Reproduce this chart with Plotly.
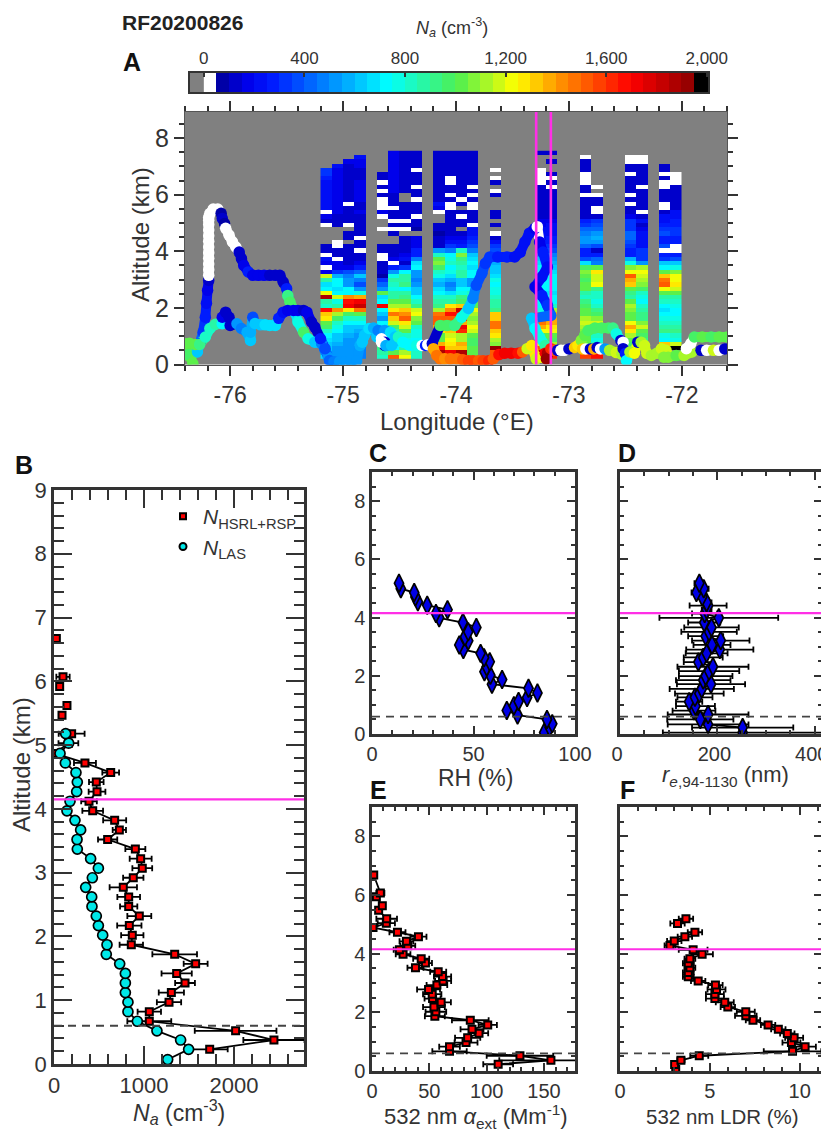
import numpy as np
import plotly.graph_objects as go

N = None
W = 25  # Na below 50: drawn white

# ---------- Panel A curtain: Na by column, listed from the top bin down ----------
CURTAIN_LON = [-75.15, -75.05, -74.95, -74.85,
               -74.65, -74.55, -74.45, -74.35,
               -74.15, -74.05, -73.95, -73.85,
               -73.65,
               -73.25, -73.15,
               -72.85, -72.75,
               -72.45, -72.35,
               -72.15, -72.05]
C01 = [N,N,N,N,320,310,290,240,230,230,220,220,210,200,W,150,140,W,N,N,N,N,130,120,W,200,180,W,170,1180,850,680,740,1220,1870,860,820,1680,1320,1260,1000,950,800,700,650,600,600,600,650]
C02 = [N,N,N,240,190,170,180,160,170,180,170,160,150,150,180,130,120,130,N,N,N,W,W,120,110,W,180,170,300,560,700,720,650,700,1160,760,850,1420,1100,950,800,750,700,620,600,560,540,500,520]
C03 = [N,N,170,130,120,130,110,120,130,140,130,120,W,130,120,110,120,W,N,140,120,N,110,100,110,120,130,180,360,460,500,520,700,710,1400,1660,1720,1260,960,800,700,640,600,560,520,520,500,500,520]
C04 = [N,200,190,160,140,130,120,150,160,170,160,150,130,140,150,130,120,110,120,130,W,100,110,W,120,130,170,250,400,600,450,360,500,750,1360,1700,1820,1460,1000,800,700,620,560,540,520,500,480,460,480]
C05 = [N,N,N,N,N,120,110,W,120,W,130,W,W,W,170,W,N,N,W,N,N,N,110,110,W,W,130,120,110,90,300,400,500,1010,650,700,1700,700,600,500,700,720,760,900,960,950,900,850,800]
C06 = [160,170,180,170,160,170,180,170,170,160,130,120,130,W,130,120,W,120,W,110,N,N,110,120,130,180,W,250,500,750,850,800,750,850,850,1000,1100,1260,1450,1300,1160,950,850,750,700,680,720,1000,1500]
C07 = [130,120,120,130,120,110,120,130,120,130,N,N,120,110,120,110,W,120,W,N,110,100,110,130,180,220,140,300,700,850,860,900,700,850,900,1000,1100,1300,1400,1500,1250,1150,1000,800,750,750,850,1100,1200]
C08 = [110,100,110,100,W,110,100,110,W,120,110,W,100,110,100,W,110,100,90,N,170,180,190,260,270,450,650,700,500,500,450,500,600,600,700,800,900,1160,1200,1050,1000,800,760,760,720,700,700,800,800]
C09 = [140,130,120,130,120,110,130,120,140,130,120,130,200,170,W,N,N,100,100,90,110,120,140,500,800,1000,1050,950,800,750,600,550,650,700,800,850,900,1100,1450,1500,1500,1350,1250,1000,1000,1350,1650,1850,1500]
C10 = [110,100,110,100,110,120,W,W,110,120,W,100,W,W,110,100,110,120,110,140,180,220,300,450,700,750,800,700,750,650,550,450,500,650,800,850,1250,1400,1650,1500,1300,1200,1300,1150,1200,1250,1300,1700,1500]
C11 = [100,110,100,110,100,110,120,110,100,110,120,W,110,N,100,W,110,100,N,130,160,200,280,800,1050,900,850,800,850,850,600,600,700,750,900,950,1300,1800,1650,1650,1350,1700,1600,1100,1100,1350,1300,1850,1750]
C12 = [120,110,120,100,110,120,130,120,W,120,W,110,W,W,110,130,120,W,200,240,280,320,350,450,600,650,700,650,700,700,500,500,700,800,800,1000,1000,1200,1100,1050,1100,1200,1150,1000,950,950,1000,1000,950]
C13 = [N,N,N,N,W,N,W,110,N,W,100,N,N,N,100,110,N,100,N,W,130,200,300,350,450,500,550,600,600,650,750,700,750,750,800,850,850,900,1300,1300,1450,1450,1300,1250,1100,1050,1900,1500,1000]
C14 = [100,N,N,N,W,W,W,W,100,110,120,110,130,120,110,130,150,180,200,220,230,250,280,350,500,600,650,700,720,700,720,700,700,720,700,700,720,760,1300,1400,1450,1350,1200,1000,1000,1200,1500,1800,1700]
C15 = [100,N,110,N,N,100,W,110,W,120,110,120,130,140,120,130,170,200,230,240,250,270,300,380,450,520,560,600,650,700,700,720,700,680,700,720,800,1100,1350,1350,1350,1250,1200,1000,950,1100,1400,1700,1600]
C16 = [N,W,110,100,110,W,W,W,110,120,W,100,110,120,110,130,250,300,400,450,500,500,400,280,280,350,650,950,1050,1000,950,1000,1000,850,800,900,950,1000,1000,1100,1150,1100,1050,950,1000,1000,1000,1550,1550]
C17 = [N,N,N,N,N,N,N,N,W,N,W,110,120,W,W,130,300,350,400,500,550,500,350,130,250,400,450,1000,1250,1150,1150,1200,900,800,800,750,800,900,950,1050,1150,1250,1050,800,750,800,900,1650,1650]
C18 = [N,W,W,110,100,W,120,110,130,120,W,110,W,120,130,150,300,320,320,400,400,350,300,280,280,550,750,1050,1200,1500,1350,1300,1000,900,850,1000,1100,1050,1000,1000,1200,1350,1250,1100,1000,950,900,N,N]
C19 = [N,W,W,110,100,120,110,130,W,110,120,110,130,120,W,120,200,130,180,200,220,200,200,300,300,300,500,1100,1200,1150,1100,1050,950,800,750,700,800,850,900,900,1050,1150,1000,950,900,900,950,N,N]
C20 = [N,N,N,100,110,W,120,W,W,130,110,120,W,W,130,200,210,250,300,350,250,250,350,W,250,300,600,700,1000,1300,1450,1500,1200,1000,850,800,700,650,700,750,800,850,900,750,700,1300,2000,N,N]
C21 = [N,N,N,N,N,W,W,W,120,110,130,120,130,140,200,220,250,280,320,300,260,280,W,W,280,350,600,750,1050,1200,1200,1250,1150,1000,850,800,750,700,720,750,800,850,900,800,750,1150,1950,N,N]
CURTAIN_COLS = [C01,C02,C03,C04,C05,C06,C07,C08,C09,C10,C11,C12,C13,C14,C15,C16,C17,C18,C19,C20,C21]
CURTAIN_TOP_KM = 7.55
CURTAIN_BIN_KM = 0.15
CURTAIN_LON_GRID = [round(-75.15 + 0.1 * i, 2) for i in range(32)]

# ---------- Panel A flight track: lon, alt, Na ----------
TRACK_LON = [-76.33,-76.35,-76.40,-76.29,-76.27,-76.24,-76.22,-76.21,-76.20,-76.19,
 -76.19,-76.19,-76.19,-76.19,-76.19,-76.19,-76.19,-76.19,-76.19,-76.19,-76.19,-76.19,
 -76.18,-76.15,-76.11,-76.08,-76.07,-76.05,-76.04,-76.01,-75.98,-75.95,-75.92,-75.90,-75.88,-75.84,-75.80,
 -75.75,-75.70,-75.65,-75.60,-75.56,-75.53,-75.50,-75.49,-75.47,-75.42,-75.40,-75.35,-75.31,-75.25,-75.19,-75.16,-75.13,-75.10,
 -76.40,-76.36,-76.31,-76.27,-76.22,-76.18,-76.13,-76.07,-76.07,-76.04,-76.01,-76.00,-75.94,-75.90,-75.85,-75.82,-75.82,-75.80,-75.78,-75.73,-75.69,-75.65,-75.60,-75.57,-75.53,-75.49,-75.44,-75.40,-75.35,-75.32,-75.28,-75.25,-75.20,-75.16,-75.12,
 -75.08,-75.03,-74.98,-74.93,-74.88,-74.85,-74.83,-74.81,-74.77,-74.73,-74.70,-74.69,-74.63,-74.58,-74.54,
 -74.66,-74.63,-74.63,-74.66,-74.62,-74.57,-74.51,-74.47,-74.41,-74.35,-74.30,-74.27,-74.25,-74.21,
 -74.14,-74.08,-74.01,-73.95,-73.89,-73.85,-73.82,-73.77,-73.74,-73.70,-73.63,-73.55,-73.48,-73.43,-73.39,-73.35,-73.30,-73.28,
 -73.26,-73.23,-73.19,-73.24,-73.30,-73.24,-73.19,-73.16,-73.33,-73.30,-73.26,-73.21,
 -74.20,-74.17,-74.14,-74.10,-74.05,-73.99,-73.94,-73.89,-73.85,-73.80,-73.76,-73.71,-73.67,-73.62,-73.57,-73.51,-73.45,-73.41,-73.37,-73.33,-73.29,-73.24,-73.21,-73.19,-73.20,-73.16,-73.13,
 -73.12,-73.10,-73.07,-73.04,-73.00,-72.95,-72.92,-72.89,-72.86,-72.88,-72.85,-72.81,-72.78,-72.75,-72.72,-72.68,-72.64,-72.58,-72.53,
 -72.83,-72.77,-72.71,-72.65,-72.61,-72.58,-72.54,-72.52,-72.52,-72.50,-72.49,
 -72.46,-72.42,-72.39,-72.36,-72.33,-72.31,-72.27,-72.22,-72.18,-72.14,-72.12,-72.16,-72.05,-71.98,-71.91,
 -71.96,-71.92,-71.89,-71.82,-71.74,-71.67,-71.60,-71.83,-71.78,-71.72,-71.67,-71.62]
TRACK_ALT = [.02,.26,.35,.44,.74,1.14,1.67,2.16,2.62,2.97,
 3.15,3.35,3.55,3.75,3.95,4.15,4.35,4.55,4.75,4.95,5.10,5.20,
 5.33,5.49,5.49,5.34,5.16,4.98,4.81,4.57,4.33,4.15,3.97,3.74,3.50,3.27,3.15,
 3.15,3.15,3.15,3.15,3.15,2.91,2.68,2.44,2.20,1.80,1.50,1.14,.91,.79,.74,.50,.26,.08,
 .73,.75,.71,.71,.97,1.27,1.42,1.44,1.67,1.85,1.67,1.38,1.44,1.27,1.14,.85,1.14,1.67,1.45,1.40,1.40,1.38,1.38,1.63,1.85,1.91,1.91,1.91,1.91,1.85,1.50,1.32,.91,.56,.14,
 .10,.10,.10,.12,.12,.67,.79,1.03,1.27,1.29,.97,1.20,1.20,1.14,.97,
 .91,.79,.67,.79,.67,.67,.97,.79,.67,.67,.67,.67,.70,.74,
 1.38,1.38,1.38,1.67,1.98,2.33,2.80,3.22,3.57,3.80,3.80,3.80,3.80,3.97,4.33,4.64,4.81,4.87,
 4.33,3.97,3.44,3.09,2.74,2.44,2.09,1.73,1.63,1.27,.97,.67,
 .56,.32,.20,.20,.20,.20,.17,.13,.13,.13,.13,.13,.20,.35,.40,.40,.40,.44,.56,.67,.20,.26,.40,.40,.20,.56,.50,
 .50,.50,.50,.50,.55,.60,.67,.85,1.03,.55,.55,.55,.55,.60,.55,.55,.50,.42,.36,
 1.20,1.29,1.29,1.29,1.29,1.09,.85,.79,.56,.39,.14,
 .44,.40,.79,.79,.67,.39,.32,.40,.56,.50,.26,.26,.32,.32,.44,
 .56,.74,.97,.97,.97,.97,.97,.50,.50,.50,.50,.55]
TRACK_NA = [1000,1000,950,600,400,300,250,200,150,100,
 W,W,W,W,W,W,W,W,W,W,W,W,
 W,W,W,60,120,60,W,W,W,W,100,120,180,250,180,
 170,150,140,130,130,120,250,900,950,650,750,950,750,600,450,450,500,500,
 1000,1000,1000,900,800,800,850,700,150,120,130,120,500,450,550,600,550,350,600,600,650,650,650,250,200,170,160,150,130,170,120,100,250,350,400,
 450,500,520,500,500,550,600,600,650,550,600,450,500,650,600,
 W,100,100,W,550,600,800,700,700,750,W,250,W,120,
 950,950,900,750,600,450,380,350,320,300,280,250,230,230,230,200,150,W,
 150,250,200,230,170,280,300,400,600,700,750,850,
 1350,1450,1450,1400,1450,1450,1500,1550,1550,1500,1550,1600,1500,1650,1700,1700,1650,1500,1150,1250,1150,1200,1700,1850,1900,1600,1500,
 1500,120,W,W,120,1300,1250,1050,1000,1300,W,120,1350,120,W,500,1100,1150,1100,
 950,950,950,950,900,750,120,W,120,280,700,
 1100,1200,120,1100,1150,1150,1100,1100,1150,1150,1050,1050,1000,1100,1100,
 W,W,950,1000,950,1000,1000,120,W,1150,W,120]

# ---------- Flight-leg longitudes, reference altitudes ----------
LEG_LONS = [-73.29, -73.16]
LON_TICKS = [-76, -75, -74, -73, -72]
LON_LABELS = ["-76", "-75", "-74", "-73", "-72"]
PBL_KM = 0.6
LEVEL_KM = 4.15

# ---------- Panel B ----------
HSRL_ALT = [.23,.376,.52,.67,.82,.97,1.12,1.27,1.42,1.57,1.72,1.87,2.02,2.17,2.32,2.47,2.62,2.77,2.92,3.07,3.22,3.37,3.52,3.67,3.82,3.97,4.12,4.27,4.42,4.57,4.72,4.87,5.03,5.18,N,5.47,N,5.62,N,5.92,N,6.07,N,6.67]
HSRL_NA = [1730,2444,2018,1059,1059,1278,1304,1456,1363,1574,1341,859,870,837,948,830,830,770,881,981,963,904,596,726,674,430,389,478,470,630,344,7,160,196,N,89,N,144,N,63,N,100,N,26]
HSRL_ERR = [200,340,454,244,130,135,140,110,168,133,248,130,124,135,133,96,126,152,113,110,122,111,107,74,128,115,87,93,81,93,122,20,110,144,N,15,N,15,N,15,N,74,N,10]
LAS_ALT = [.07,.23,.376,.52,.67,.82,.97,1.12,1.27,1.42,1.57,1.72,1.87,2.02,2.17,2.32,2.47,2.62,2.77,2.92,3.07,3.22,3.37,3.52,3.67,3.82,3.97,4.12,4.27,4.42,4.57,4.72,4.87,5.03,5.18]
LAS_NA = [1263,1496,1407,1144,926,822,822,793,793,793,730,581,589,541,493,470,422,419,352,426,493,407,259,256,296,233,144,178,252,259,244,126,67,163,130]

# ---------- Panel C ----------
RH_ALT = [.05,.23,.35,.50,.65,.81,.97,1.12,1.25,1.41,1.57,1.71,1.87,2.02,2.14,2.31,2.48,2.62,2.77,2.90,3.06,3.20,3.34,3.51,3.66,3.83,3.99,4.14,4.27,4.42,4.54,4.71,4.86,4.99,5.18]
RH_VAL = [84.8,87.5,88.8,86.2,71.7,66.4,69.9,72.2,76.4,81.5,77.1,59.1,64.1,58.3,55.4,56.5,58,55.2,53.5,45,43,47.4,45.8,47.4,51.4,44.8,33.1,31.5,37.2,27.2,22.6,21.4,20.8,14.2,13.3]

# ---------- Panel D ----------
RE_ALT = [.05,.22,.33,.50,.67,.80,.96,1.11,1.26,1.39,1.55,1.71,1.85,1.99,2.16,2.31,2.47,2.63,2.77,2.90,3.06,3.21,3.36,3.51,3.66,3.83,3.99,4.14,4.27,4.41,4.52,4.71,4.86,4.99,5.18]
RE_VAL = [252,252,181,165,181,152,155,142,154,163,168,187,171,176,183,191,161,171,178,205,189,207,176,183,188,173,203,174,178,181,178,169,157,172,163]
RE_ERR = [164,104,83,68,83,44,40,27,36,50,66,70,56,55,62,73,30,40,43,69,38,59,36,57,56,33,122,26,10,38,10,10,10,10,10]

# ---------- Panel E ----------
EXT_ALT = [.23,.365,.52,.67,.83,.97,1.13,1.29,1.42,1.57,1.73,1.87,2.02,2.18,2.34,2.47,2.62,2.78,2.93,3.07,3.22,3.38,3.52,3.68,3.83,3.98,4.13,4.27,4.42,4.58,4.73,4.89,5.04,5.19,5.48,5.63,5.94,6.07,6.68]
EXT_VAL = [110,156,129,67.6,67.6,82,83.4,93.3,87.2,100.9,85.7,54.8,55.7,54,60.3,52.8,52.5,49.3,56.6,62,61.5,57.7,37.9,46.6,42.9,27.1,23.9,31.2,30,40.5,22.2,.9,12.5,12.8,5.8,9,3.8,7.3,1.5]
EXT_ERR = [13,45,29,15,9,10,11,8,10,8,16,8.7,9,9.5,8.5,7,8,10,9,7,7.5,7,7,5.7,7,6.4,5,6.5,6,7,7,1.5,7.5,9,2,2,2,3.5,1]

# ---------- Panel F ----------
LDR_ALT = [.05,.22,.365,.52,.67,.83,.97,1.13,1.28,1.42,1.57,1.73,1.88,2.02,2.18,2.34,2.47,2.62,2.78,2.93,3.07,3.21,3.36,3.52,3.67,3.83,3.98,4.13,4.28,4.43,4.58,4.73,N,5.03,5.19]
LDR_VAL = [3.1,3.04,3.39,4.41,9.6,10.3,9.54,9.69,9.31,8.81,8.24,7.4,7.0,7.0,6.0,5.83,5.28,5.28,5.37,5.31,4.35,3.8,3.8,3.89,3.8,3.89,4.57,4.07,2.78,3.02,3.61,4.17,N,3.2,3.67]
LDR_ERR = [.1,.1,.2,.5,1.6,.6,.5,.5,.4,.4,.4,.4,.6,.5,.4,.5,.5,.5,.5,.4,.4,.3,.3,.3,.3,.3,.6,.8,.3,.4,.4,.4,N,.4,.4]

# ---------- Colour steps of the Na scale ----------
NA_STEP = 50
NA_MAX = 2050
COLOR_VALUES = [50, 170, 280, 735, 1010, 1240, 1420, 1700, 1950]
COLOR_RGB = [(0,0,150),(0,0,235),(0,30,255),(0,255,255),(80,240,80),(255,255,0),(255,144,0),(255,0,0),(140,0,0)]

BODY_PAD = 8  # the page's own margin around the figure
W_PX, H_PX = 829 - BODY_PAD, 1131 - BODY_PAD
INK = "#333333"
FONT = "Liberation Sans"
MAGENTA = "#ff2fe6"
DASH = "#444444"

# ---------- discrete colour scale ----------
n_steps = NA_MAX // NA_STEP
scale = []
for i in range(n_steps):
    lo = i * NA_STEP
    c = lo + NA_STEP / 2
    if i == 0:
        col = "#ffffff"
    elif lo >= 1950:
        col = "#000000"
    else:
        rgb = [int(np.interp(c, COLOR_VALUES, [k[j] for k in COLOR_RGB])) for j in range(3)]
        col = f"rgb({rgb[0]},{rgb[1]},{rgb[2]})"
    scale += [[i / n_steps, col], [(i + 1) / n_steps, col]]

def step_color(v):
    return scale[2 * min(int(v // NA_STEP), n_steps - 1)][1]

# ---------- helpers for layout in pixels of the 829x1131 window ----------
def xd(a, b): return [(a - BODY_PAD) / W_PX, (b - BODY_PAD) / W_PX]
def yd(top, bottom): return [1 - (bottom - BODY_PAD) / H_PX, 1 - (top - BODY_PAD) / H_PX]

fig = go.Figure()

# colour bar
bar_x = [NA_STEP * (i + 0.5) for i in range(n_steps)]
fig.add_trace(go.Heatmap(x=bar_x, y=[0], z=[bar_x], zmin=0, zmax=NA_MAX, colorscale=scale,
                         showscale=False, xaxis="x", yaxis="y", hoverinfo="skip"))

# curtain
z = []
n_rows = 49
for r in range(n_rows):
    row = []
    for lon in CURTAIN_LON_GRID:
        if lon in CURTAIN_LON:
            row.append(CURTAIN_COLS[CURTAIN_LON.index(lon)][r])
        else:
            row.append(None)
    z.append(row)
alts = [CURTAIN_TOP_KM - CURTAIN_BIN_KM * (r + 0.5) for r in range(n_rows)]
fig.add_trace(go.Heatmap(x=CURTAIN_LON_GRID, y=alts, z=z, zmin=0, zmax=NA_MAX, colorscale=scale,
                         showscale=False, xaxis="x2", yaxis="y2", hoverongaps=False))

# track: thick segments between neighbouring samples of one leg, then the samples
TRACK_GAP = 0.25  # normalised jump above which two samples are not joined
for i in range(len(TRACK_LON) - 1):
    jump = np.hypot(TRACK_LON[i + 1] - TRACK_LON[i], (TRACK_ALT[i + 1] - TRACK_ALT[i]) / 4)
    if jump < TRACK_GAP:
        fig.add_trace(go.Scatter(x=TRACK_LON[i:i + 2], y=TRACK_ALT[i:i + 2], mode="lines", xaxis="x2", yaxis="y2",
                                 line=dict(color=step_color(TRACK_NA[i]), width=10), showlegend=False, hoverinfo="skip"))
fig.add_trace(go.Scatter(x=TRACK_LON, y=TRACK_ALT, mode="markers", xaxis="x2", yaxis="y2",
                         marker=dict(color=TRACK_NA, cmin=0, cmax=NA_MAX, colorscale=scale, size=11.5, line=dict(width=0)),
                         showlegend=False))
for lon in LEG_LONS:
    fig.add_trace(go.Scatter(x=[lon, lon], y=[0, 8.92], mode="lines", xaxis="x2", yaxis="y2",
                             line=dict(color=MAGENTA, width=2.6), showlegend=False))

def profile(x, y, err, ax, kind):
    sym = dict(sq=dict(symbol="square", size=7, color="#ff0000", line=dict(color="black", width=2)),
               ci=dict(symbol="circle", size=10, color="#00e8e8", line=dict(color="black", width=1.7)),
               di=dict(symbol="diamond-tall", size=13, color="#0000e6", line=dict(color="black", width=1.7)))[kind]
    tr = dict(x=x, y=y, mode="lines+markers", xaxis="x" + ax, yaxis="y" + ax,
              line=dict(color="black", width=1.8), marker=sym, showlegend=False)
    if err is not None:
        tr["error_x"] = dict(type="data", array=err, symmetric=True, color="black", thickness=1.8, width=3)
    fig.add_trace(go.Scatter(**tr))

profile(HSRL_NA, HSRL_ALT, HSRL_ERR, "3", "sq")
profile(LAS_NA, LAS_ALT, None, "3", "ci")
profile(RH_VAL, RH_ALT, None, "4", "di")
profile(RE_VAL, RE_ALT, RE_ERR, "5", "di")
profile(EXT_VAL, EXT_ALT, EXT_ERR, "6", "sq")
profile(LDR_VAL, LDR_ALT, LDR_ERR, "7", "sq")

# legend markers for panel B
fig.add_trace(go.Scatter(x=[None], y=[None], mode="markers", xaxis="x3", yaxis="y3", name="<i>N</i><sub>HSRL+RSP</sub>",
                         marker=dict(symbol="square", size=6, color="#ff0000", line=dict(color="black", width=2))))
fig.add_trace(go.Scatter(x=[None], y=[None], mode="markers", xaxis="x3", yaxis="y3", name="<i>N</i><sub>LAS</sub>",
                         marker=dict(symbol="circle", size=7, color="#00e8e8", line=dict(color="black", width=2))))

# ---------- axes ----------
def prof_axis(domain, rng, major, minor, anchor, big=False):
    return dict(domain=domain, range=rng, dtick=major, tick0=0, ticks="inside", ticklen=18 if big else 8, tickwidth=2,
                tickcolor=INK, mirror="allticks", showline=True, linecolor=INK, linewidth=2.5, showgrid=False, zeroline=False,
                anchor=anchor, tickfont=dict(family=FONT, size=22 if big else 20, color=INK),
                minor=dict(dtick=minor, tick0=0, ticks="inside", ticklen=10 if big else 4, tickwidth=2, tickcolor=INK, showgrid=False))

def prof_x(dom, rng, major, minor, anchor, big=False):
    return prof_axis(xd(*dom), rng, major, minor, anchor, big)

def prof_y(dom, rng, major, minor, anchor, labels=True, big=False):
    d = prof_axis(yd(*dom), rng, major, minor, anchor, big)
    d["showticklabels"] = labels
    return d

layout = dict(
    width=W_PX, height=H_PX, margin=dict(l=0, r=0, t=0, b=0, autoexpand=False),
    paper_bgcolor="white", plot_bgcolor="white",
    font=dict(family=FONT, color=INK),
    xaxis=dict(domain=xd(190, 708), range=[-55, 2005], dtick=400, tick0=0, side="top", ticks="inside", ticklen=4, tickwidth=1.5,
               tickcolor=INK, tickformat=",", mirror=True, showline=True, linecolor=INK, linewidth=1.5, showgrid=False,
               zeroline=False, anchor="y", tickfont=dict(family=FONT, size=17, color=INK)),
    yaxis=dict(domain=yd(73, 92), range=[-0.5, 0.5], showticklabels=False, ticks="", showgrid=False, zeroline=False,
               mirror=True, showline=True, linecolor=INK, linewidth=1.5, anchor="x"),
    xaxis2=dict(domain=xd(185, 727), range=[-76.4, -71.6], tickmode="array", tickvals=LON_TICKS, ticktext=LON_LABELS,
                ticks="outside", ticklen=10, tickwidth=1.5,
                tickcolor=INK, mirror="allticks", showline=True, linecolor="#555555", linewidth=1, showgrid=False,
                zeroline=False, anchor="y2", tickfont=dict(family=FONT, size=23, color=INK),
                minor=dict(dtick=0.2, tick0=-76, ticks="outside", ticklen=5, tickwidth=1.5, tickcolor=INK, showgrid=False)),
    yaxis2=dict(domain=yd(112, 364.5), range=[0, 8.92], dtick=2, tick0=0, ticks="outside", ticklen=10, tickwidth=1.5,
                tickcolor=INK, mirror="allticks", showline=True, linecolor="#555555", linewidth=1, showgrid=False,
                zeroline=False, anchor="x2", tickfont=dict(family=FONT, size=25, color=INK),
                minor=dict(dtick=0.5, tick0=0, ticks="outside", ticklen=5, tickwidth=1.5, tickcolor=INK, showgrid=False)),
    xaxis3=prof_x((54, 304), [0, 2778], 1000, 200, "y3", big=True),
    yaxis3=prof_y((490, 1064), [0, 9], 1, 0.2, "x3", big=True),
    xaxis4=prof_x((372, 575), [0, 100], 50, 10, "y4"),
    yaxis4=prof_y((472, 734), [0, 9], 2, 0.5, "x4"),
    xaxis5=dict(prof_x((620, 822), [0, 415], 200, 50, "y5"), ticklabeloverflow="allow", ticklabelshift=-3),
    yaxis5=prof_y((472, 734), [0, 9], 2, 0.5, "x5", labels=False),
    xaxis6=prof_x((372, 575), [0, 177], 50, 10, "y6"),
    yaxis6=prof_y((807, 1071), [0, 9], 2, 0.5, "x6"),
    xaxis7=prof_x((620, 822), [0, 11.24], 5, 1, "y7"),
    yaxis7=prof_y((807, 1071), [0, 9], 2, 0.5, "x7", labels=False),
    legend=dict(x=(163 - BODY_PAD) / W_PX, y=1 - (496 - BODY_PAD) / H_PX, xanchor="left", yanchor="top", bgcolor="rgba(0,0,0,0)",
                font=dict(family=FONT, size=21, color=INK), itemwidth=30, tracegroupgap=0),
    showlegend=True,
)

# ---------- background and reference lines ----------
shapes = [
    dict(type="rect", xref="x domain", yref="y domain", x0=0, x1=1, y0=0, y1=1, fillcolor="#808080", line_width=0, layer="below"),
    dict(type="rect", xref="x2 domain", yref="y2 domain", x0=0, x1=1, y0=0, y1=1, fillcolor="#808080", line_width=0, layer="below"),
]
for ax in ["3", "4", "5", "6", "7"]:
    shapes.append(dict(type="line", xref=f"x{ax} domain", yref=f"y{ax}", x0=0, x1=1, y0=LEVEL_KM, y1=LEVEL_KM,
                       line=dict(color=MAGENTA, width=2.2)))
    shapes.append(dict(type="line", xref=f"x{ax} domain", yref=f"y{ax}", x0=0, x1=1, y0=PBL_KM, y1=PBL_KM,
                       line=dict(color=DASH, width=1.8, dash="8px,6px")))
layout["shapes"] = shapes

# ---------- texts ----------
def note(x, y, text, size, bold=False, angle=0, color=INK):
    return dict(x=(x - BODY_PAD) / W_PX, y=1 - (y - BODY_PAD) / H_PX, xref="paper", yref="paper",
                text=f"<b>{text}</b>" if bold else text,
                showarrow=False, xanchor="center", yanchor="middle", textangle=angle,
                font=dict(family=FONT, size=size, color=color))

layout["annotations"] = [
    note(182, 22, "RF20200826", 21, bold=True, color="#222222"),
    note(132, 62, "A", 25, bold=True, color="#111111"),
    note(24, 465, "B", 25, bold=True, color="#111111"),
    note(378, 453, "C", 25, bold=True, color="#111111"),
    note(627, 453, "D", 25, bold=True, color="#111111"),
    note(378, 790, "E", 25, bold=True, color="#111111"),
    note(627, 790, "F", 25, bold=True, color="#111111"),
    note(452, 28, "<i>N</i><sub><i>a</i></sub> (cm<sup>-3</sup>)", 18),
    note(457, 421, "Longitude (°E)", 24),
    note(141, 235, "Altitude (km)", 24, angle=-90),
    note(22, 765, "Altitude (km)", 24, angle=-90),
    note(179, 1112, "<i>N</i><sub><i>a</i></sub> (cm<sup>-3</sup>)", 23),
    note(475, 778, "RH (%)", 23),
    note(725, 776, "<i>r</i><sub><i>e</i>,94-1130</sub> (nm)", 22),
    note(476, 1116, "532 nm <i>α</i><sub>ext</sub> (Mm<sup>-1</sup>)", 22),
    note(722, 1116, "532 nm LDR (%)", 20.5),
]

fig.update_layout(**layout)
fig.write_html("out.html")
